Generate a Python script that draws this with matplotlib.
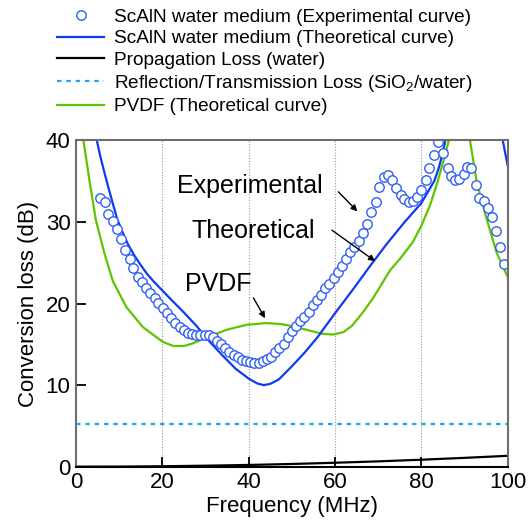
import matplotlib
matplotlib.use('Agg')
import matplotlib.pyplot as plt
from matplotlib.lines import Line2D

plt.rcParams['font.family'] = ['Liberation Sans', 'DejaVu Sans']
plt.rcParams['mathtext.default'] = 'regular'

# experimental points (ScAlN, water medium)
exp_f = [5.6, 6.6, 7.5, 8.5, 9.5, 10.4, 11.4, 12.4, 13.3, 14.3, 15.3, 16.2, 17.2, 18.2, 19.1,
         20.1, 21.1, 22.0, 23.0, 24.0, 24.9, 25.9, 26.9, 27.8, 28.8, 29.8, 30.7, 31.7, 32.6, 33.6,
         34.6, 35.5, 36.5, 37.5, 38.4, 39.4, 40.4, 41.3, 42.3, 43.3, 44.2, 45.2, 46.2, 47.1, 48.1,
         49.1, 50.0, 51.0, 52.0, 52.9, 53.9, 54.9, 55.8, 56.8, 57.8, 58.7, 59.7, 60.7, 61.6, 62.6,
         63.6, 64.5, 65.5, 66.5, 67.4, 68.4, 69.4, 70.3, 71.3, 72.3, 73.2, 74.2, 75.2, 76.1, 77.1,
         78.1, 79.0, 80.0, 81.0, 81.9, 82.9, 83.8, 85.0, 86.1, 86.8, 87.8, 88.8, 89.8, 90.6, 91.5,
         92.6, 93.5, 94.6, 95.5, 96.3, 97.3, 98.3, 99.2]
exp_L = [33.0, 32.4, 31.0, 30.1, 29.2, 27.9, 26.6, 25.4, 24.4, 23.3, 22.6, 21.9, 21.3, 20.7, 20.1,
         19.5, 18.8, 18.2, 17.6, 17.1, 16.7, 16.4, 16.3, 16.2, 16.2, 16.2, 16.1, 15.9, 15.4, 15.0,
         14.5, 14.1, 13.7, 13.4, 13.1, 12.9, 12.8, 12.7, 12.7, 12.9, 13.2, 13.5, 14.0, 14.5, 15.1,
         15.9, 16.6, 17.3, 17.8, 18.3, 19.0, 19.8, 20.4, 21.1, 21.9, 22.4, 23.1, 23.9, 24.6, 25.4,
         26.3, 26.9, 27.7, 28.7, 29.8, 31.2, 32.5, 34.3, 35.5, 35.8, 35.2, 34.2, 33.3, 32.8, 32.5,
         32.6, 33.1, 33.9, 35.2, 36.6, 38.2, 39.8, 38.4, 36.6, 35.6, 35.1, 35.3, 35.9, 36.7, 36.6,
         34.5, 33.0, 32.6, 31.7, 30.6, 28.9, 26.9, 24.9]

# theoretical ScAlN (water)
th_f = [3.5, 4.8, 5.6, 6.6, 7.5, 8.5, 9.5, 10.8, 12.0, 13.5, 15.0, 16.5, 18.0, 20.0, 22.0,
        25.0, 28.0, 31.0, 34.0, 37.0, 40.0, 42.0, 43.5, 45.0, 47.0, 50.0, 53.0, 56.0, 60.0, 64.0,
        68.0, 72.0, 76.0, 80.0, 83.0, 84.0, 85.0, 86.0, 87.0]
th_L = [44.5, 40.0, 38.1, 36.0, 34.2, 32.3, 30.4, 28.7, 27.3, 25.9, 24.7, 23.6, 22.7, 21.6, 20.5,
        18.9, 17.2, 15.3, 13.6, 12.0, 10.8, 10.2, 10.0, 10.15, 10.7, 12.3, 14.0, 15.9, 18.8, 21.6,
        24.5, 27.3, 29.9, 32.3, 35.0, 36.5, 38.5, 41.0, 44.0]
th_f2 = [97.5, 98.9, 100.0]
th_L2 = [45.0, 40.0, 37.0]

# PVDF theoretical
pv_f = [1.0, 1.7, 3.1, 4.6, 6.6, 8.5, 11.6, 15.5, 20.1, 22.5, 25.0, 27.0, 31.0, 35.0, 39.6,
        44.0, 47.3, 50.4, 54.0, 57.0, 59.6, 62.0, 64.0, 66.6, 69.0, 72.8, 75.1, 78.0, 80.0, 82.0,
        83.6, 85.0, 86.4, 87.2, 90.5, 91.3, 92.9, 95.2, 97.5, 100.0]
pv_L = [43.0, 40.0, 35.1, 30.2, 26.1, 22.8, 19.6, 17.1, 15.3, 14.8, 14.8, 15.1, 16.0, 16.8, 17.4,
        17.6, 17.5, 17.2, 16.7, 16.3, 16.2, 16.5, 17.3, 19.0, 20.8, 24.1, 25.5, 27.5, 29.5, 32.0,
        34.6, 37.2, 40.0, 43.0, 44.0, 40.0, 34.8, 30.3, 26.2, 23.3]

# propagation loss in water
prop_f = [0, 10, 20, 30, 40, 50, 60, 70, 80, 90, 100]
prop_L = [0.0, 0.01, 0.05, 0.12, 0.21, 0.33, 0.48, 0.65, 0.85, 1.08, 1.33]

# reflection / transmission loss SiO2/water
refl_f = [0, 100]
refl_L = [5.2, 5.2]

c_exp = '#2f5ff5'
c_th = '#0d3cf0'
c_pv = '#5fc400'
c_refl = '#1ea6f2'

fig = plt.figure(figsize=(5.32, 5.22), dpi=100)
ax = fig.add_axes([0.143, 0.106, 0.811, 0.625])

for g in [20, 40, 60, 80]:
    ax.axvline(g, color='#999999', lw=0.8, ls=(0, (1, 1.5)), zorder=0)

ax.plot(prop_f, prop_L, color='black', lw=1.6)
ax.plot(refl_f, refl_L, color=c_refl, lw=1.6, ls=(0, (2, 2.2)))
ax.plot(pv_f, pv_L, color=c_pv, lw=1.6)
ax.plot(th_f, th_L, color=c_th, lw=1.6)
ax.plot(th_f2, th_L2, color=c_th, lw=1.6)
ax.plot(exp_f, exp_L, ls='none', marker='o', ms=6.8, mfc='white', mec=c_exp, mew=1.0)

ax.set_xlim(0, 100)
ax.set_ylim(0, 40)
ax.set_xticks([0, 20, 40, 60, 80, 100])
ax.set_yticks([0, 10, 20, 30, 40])
ax.tick_params(direction='in', length=7, width=1.3, labelsize=16, pad=4)
for s in ax.spines.values():
    s.set_color('#6e6e6e')
    s.set_linewidth(1.5)
ax.spines['bottom'].set_color('black')
ax.set_xlabel('Frequency (MHz)', fontsize=16, labelpad=2)
ax.set_ylabel('Conversion loss (dB)', fontsize=16, labelpad=5)

ax.text(23.4, 34.4, 'Experimental', fontsize=18, va='center', ha='left')
ax.text(26.8, 28.9, 'Theoretical', fontsize=18, va='center', ha='left')
ax.text(25.3, 22.4, 'PVDF', fontsize=18, va='center', ha='left')
arrow = dict(arrowstyle='-|>', color='black', lw=1.0, mutation_scale=9, shrinkA=0, shrinkB=0)
ax.annotate('', xy=(65.2, 31.3), xytext=(60.8, 33.7), arrowprops=arrow)
ax.annotate('', xy=(69.3, 25.2), xytext=(59.3, 29.0), arrowprops=arrow)
ax.annotate('', xy=(43.8, 18.2), xytext=(41.1, 20.7), arrowprops=arrow)

handles = [
    Line2D([], [], ls='none', marker='o', ms=6.8, mfc='white', mec=c_exp, mew=1.0),
    Line2D([], [], color=c_th, lw=1.6),
    Line2D([], [], color='black', lw=1.6),
    Line2D([], [], color=c_refl, lw=1.6, ls=(0, (2, 2.2))),
    Line2D([], [], color=c_pv, lw=1.6),
]
labels = ['ScAlN water medium (Experimental curve)',
          'ScAlN water medium (Theoretical curve)',
          'Propagation Loss (water)',
          'Reflection/Transmission Loss (SiO$_2$/water)',
          'PVDF (Theoretical curve)']
fig.legend(handles, labels, loc='upper left', bbox_to_anchor=(0.078, 1.013), frameon=False,
           fontsize=13.7, handlelength=2.5, handletextpad=0.5, labelspacing=0.22, borderpad=0.3)

fig.savefig('out.png', dpi=100)
